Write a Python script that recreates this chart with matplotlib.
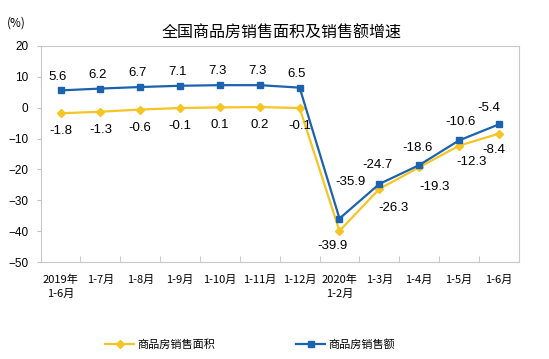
import numpy as np
import matplotlib.pyplot as plt

plt.rcParams['font.family'] = ['Noto Sans CJK SC', 'DejaVu Sans']

categories = ['2019年\n1-6月', '1-7月', '1-8月', '1-9月', '1-10月', '1-11月', '1-12月',
              '2020年\n1-2月', '1-3月', '1-4月', '1-5月', '1-6月']
area = [-1.8, -1.3, -0.6, -0.1, 0.1, 0.2, -0.1, -39.9, -26.3, -19.3, -12.3, -8.4]
amount = [5.6, 6.2, 6.7, 7.1, 7.3, 7.3, 6.5, -35.9, -24.7, -18.6, -10.6, -5.4]

yellow = '#F5C526'
blue = '#1D62AE'
num_font = ['Liberation Sans', 'DejaVu Sans']

fig = plt.figure(figsize=(5.49, 3.59), dpi=100)
ax = fig.add_axes([0.074, 0.270, 0.871, 0.602])

x = np.arange(len(categories))
ax.plot(x, area, color=yellow, lw=1.6, marker='D', ms=4.5, label='商品房销售面积')
ax.plot(x, amount, color=blue, lw=1.6, marker='s', ms=4.8, label='商品房销售额')

# label offsets in points (dx, dy)
amt_off = [(-2, 10)] * 7 + [(8, 26), (-1, 14), (-1, 12), (1, 13), (-7, 12)]
area_off = [(0, -13)] * 7 + [(-5, -11), (10, -14), (11, -14), (9, -12), (-4, -12)]
for i in range(len(x)):
    ax.annotate(f'{amount[i]:g}', (x[i], amount[i]), xytext=amt_off[i],
                textcoords='offset points', ha='center', va='center',
                fontsize=9.5, family=num_font)
    ax.annotate(f'{area[i]:g}', (x[i], area[i]), xytext=area_off[i],
                textcoords='offset points', ha='center', va='center',
                fontsize=9.5, family=num_font)

ax.set_xlim(-0.5, len(x) - 0.5)
ax.set_ylim(-50, 20)
ax.set_yticks(np.arange(-50, 21, 10))
ax.set_xticks(x)
ax.set_xticklabels(categories, fontsize=8, va='top', linespacing=1.45)
ax.set_xticks(np.arange(0.5, len(x) - 1, 1), minor=True)
ax.tick_params(axis='x', which='major', length=0, pad=9)
ax.tick_params(axis='x', which='minor', direction='in', length=4, color='#C0C0C0')
ax.tick_params(axis='y', labelsize=8.5, length=3, color='#C0C0C0', pad=6)
for lab in ax.get_yticklabels():
    lab.set_family(num_font)
for s in ax.spines.values():
    s.set_color('#C8C8C8')
    s.set_linewidth(0.8)

fig.text(0.512, 0.908, '全国商品房销售面积及销售额增速', ha='center', va='center', fontsize=11.5)
fig.text(0.012, 0.937, '(%)', ha='left', va='center', fontsize=8.5)

leg = fig.legend(loc='center', bbox_to_anchor=(0.456, 0.04), ncol=2, frameon=False,
                 fontsize=8, handlelength=2.6, columnspacing=7.3, handletextpad=0.3)

fig.savefig('out.png', dpi=100)
